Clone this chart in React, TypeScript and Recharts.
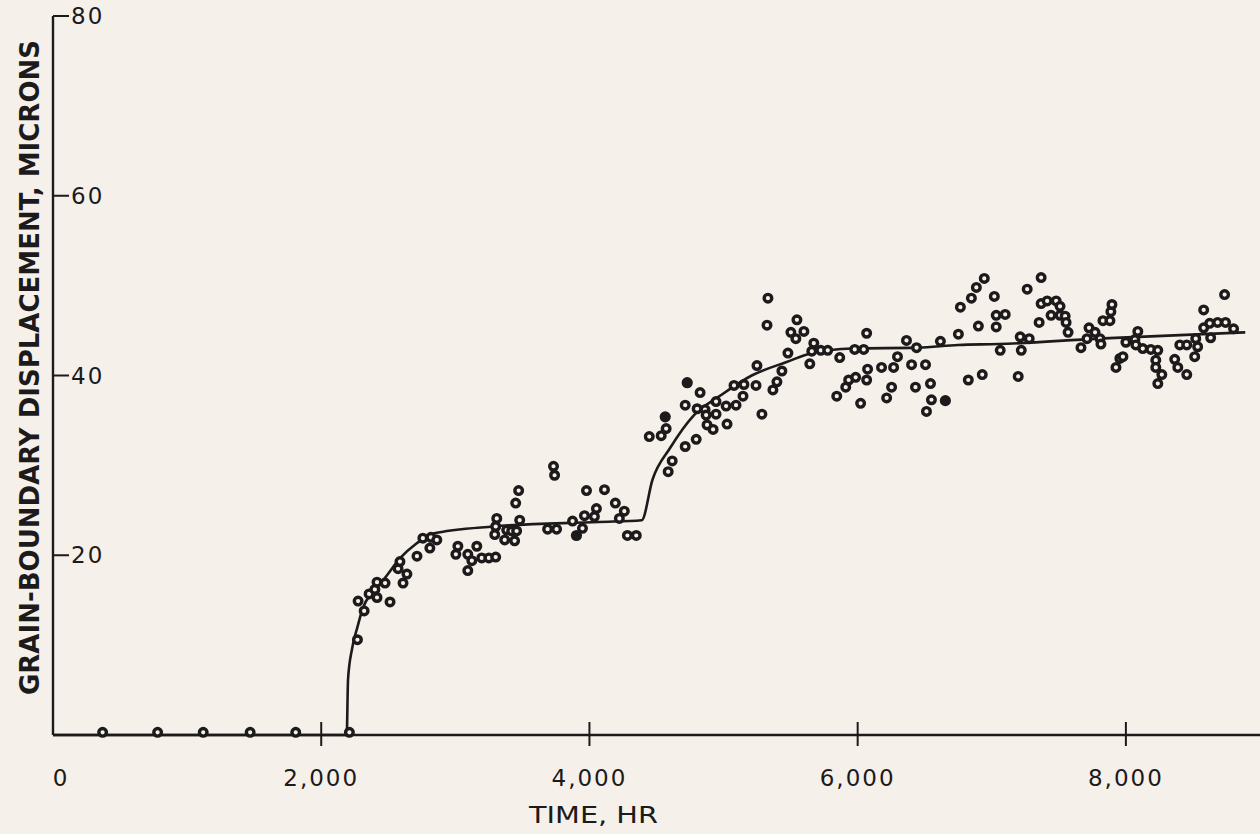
import { ComposedChart, Line, Scatter, XAxis, YAxis } from "recharts";

const PAPER = "#f6f0eb";
const INK = "#1c1a1a";

// [time (hr), displacement (microns)]
const baselinePoints = [
  [370, 0.3], [780, 0.3], [1120, 0.3], [1470, 0.3], [1810, 0.3], [2210, 0.3],
];

const firstRisePoints = [
  [2270, 10.6], [2275, 14.9], [2320, 13.8], [2357, 15.7], [2400, 16.2], [2416, 17.0],
  [2416, 15.3], [2476, 16.9], [2513, 14.8], [2573, 18.5], [2587, 19.3], [2610, 16.9],
  [2639, 17.9], [2714, 19.9], [2758, 21.9], [2810, 20.8], [2818, 22.0], [2862, 21.7],
  [3004, 20.1], [3019, 21.0], [3093, 20.1], [3093, 18.3], [3123, 19.4], [3160, 21.0],
  [3197, 19.7], [3250, 19.7], [3301, 19.8],
];

const plateauPoints = [
  [3294, 22.3], [3301, 23.2], [3309, 24.1], [3368, 21.7], [3383, 22.8], [3420, 22.7],
  [3442, 21.6], [3450, 25.8], [3457, 22.7], [3472, 27.2], [3480, 23.9], [3688, 22.9],
  [3732, 29.9], [3740, 28.9], [3755, 22.9], [3874, 23.8], [3948, 23.0], [3963, 24.4],
  [3978, 27.2], [4037, 24.3], [4052, 25.2], [4112, 27.3], [4193, 25.8], [4223, 24.1],
  [4260, 24.9], [4283, 22.2], [4349, 22.2],
];

const secondRisePoints = [
  [4446, 33.2], [4535, 33.3], [4572, 34.1], [4587, 29.3], [4617, 30.5], [4714, 32.1],
  [4714, 36.7], [4796, 32.9], [4803, 36.3], [4825, 38.1], [4862, 36.2], [4870, 35.6],
  [4877, 34.5], [4922, 34.0], [4944, 37.1], [4944, 35.7], [5019, 36.6], [5026, 34.6],
  [5078, 38.9], [5093, 36.7], [5145, 37.7], [5152, 39.0], [5242, 38.9], [5249, 41.1],
  [5286, 35.7], [5324, 45.6], [5331, 48.6], [5368, 38.4], [5398, 39.3], [5435, 40.5],
];

const upperPoints = [
  [5480, 42.5], [5502, 44.8], [5539, 44.1], [5547, 46.2], [5599, 44.9], [5643, 41.3],
  [5658, 42.7], [5673, 43.6], [5725, 42.8], [5777, 42.8], [5844, 37.7], [5866, 42.0],
  [5911, 38.7], [5933, 39.5], [5978, 42.9], [5985, 39.8], [6022, 36.9], [6045, 42.9],
  [6067, 44.7], [6067, 39.5], [6074, 40.7], [6178, 40.9], [6216, 37.5], [6253, 38.7],
  [6268, 40.9], [6297, 42.1], [6364, 43.9], [6402, 41.2], [6431, 38.7], [6439, 43.1],
  [6506, 41.2], [6513, 36.0], [6543, 39.1], [6550, 37.3], [6617, 43.8], [6751, 44.6],
  [6766, 47.6], [6825, 39.5], [6848, 48.6], [6885, 49.8], [6900, 45.5], [6929, 40.1],
  [6944, 50.8], [7019, 48.8], [7033, 46.7], [7033, 45.4], [7063, 42.8], [7100, 46.8],
];

const lateTimePoints = [
  [7197, 39.9], [7212, 44.3], [7220, 42.8], [7264, 49.6], [7279, 44.1], [7353, 45.9],
  [7368, 50.9], [7368, 48.0], [7413, 48.3], [7442, 46.7], [7480, 48.3], [7509, 47.7],
  [7509, 46.7], [7547, 46.6], [7554, 45.9], [7569, 44.8], [7665, 43.1], [7710, 44.1],
  [7725, 45.3], [7770, 44.8], [7807, 44.1], [7814, 43.5], [7829, 46.1], [7881, 46.1],
  [7888, 47.1], [7896, 47.9], [7926, 40.9], [7955, 41.9], [7978, 42.1], [8000, 43.7],
  [8067, 44.0], [8074, 43.4], [8089, 44.9], [8126, 43.0], [8186, 42.9], [8223, 41.7],
  [8223, 40.9], [8238, 42.8], [8238, 39.1], [8268, 40.1], [8364, 41.8], [8387, 40.9],
  [8402, 43.4], [8454, 43.4], [8454, 40.1], [8513, 42.1], [8521, 44.1], [8535, 43.2],
  [8580, 47.3], [8580, 45.3], [8625, 45.8], [8632, 44.2], [8684, 45.9], [8736, 49.0],
  [8743, 45.9], [8803, 45.2],
];

// the few solid dots
const filledPoints = [
  [3903, 22.2], [4565, 35.4], [4729, 39.2], [6654, 37.2],
];

// faired curve through the data
const fitCurve = [
  [0, 0], [2190, 0], [2200, 6.2], [2230, 9.6], [2270, 12.0], [2310, 14.1],
  [2380, 15.9], [2460, 17.2], [2590, 19.7], [2710, 21.3], [2830, 22.4], [3280, 23.2],
  [4070, 23.7], [4390, 23.9], [4470, 28.4], [4600, 31.9], [4780, 35.6], [4970, 37.7],
  [5210, 40.0], [5470, 41.5], [5660, 42.5], [5960, 43.0], [6450, 43.1], [6750, 43.4],
  [7050, 43.5], [7790, 44.1], [8890, 44.8],
];

const timeTicks = [0, 2000, 4000, 6000, 8000];
const displacementTicks = [20, 40, 60, 80];

const toRows = (pairs: number[][]) => pairs.map(([t, d]) => ({ t, d }));

const openDots = toRows([
  ...baselinePoints,
  ...firstRisePoints,
  ...plateauPoints,
  ...secondRisePoints,
  ...upperPoints,
  ...lateTimePoints,
]);
const solidDots = toRows(filledPoints);
const curveRows = toRows(fitCurve);

const tickFont = { fontFamily: "'DejaVu Sans', sans-serif", fontSize: 23, fill: INK };

function formatHours(v: number): string {
  return v === 0 ? "0" : v.toLocaleString("en-US");
}

function TimeTick({ x, y, payload }: any) {
  const v = payload.value as number;
  return (
    <g>
      {v !== 0 && <line x1={x} x2={x} y1={y - 13} y2={y + 11} stroke={INK} strokeWidth={2} />}
      <text
        x={v === 0 ? x + 8 : x}
        y={y + 43}
        textAnchor="middle"
        dominantBaseline="central"
        letterSpacing={2}
        {...tickFont}
      >
        {formatHours(v)}
      </text>
    </g>
  );
}

function DisplacementTick({ x, y, payload }: any) {
  return (
    <g>
      <line x1={x} x2={x + 16} y1={y} y2={y} stroke={INK} strokeWidth={2} />
      <text x={x + 18} y={y} textAnchor="start" dominantBaseline="central" letterSpacing={2} {...tickFont}>
        {payload.value}
      </text>
    </g>
  );
}

function OpenDot({ cx, cy }: any) {
  return <circle cx={cx} cy={cy} r={3.8} fill={PAPER} stroke={INK} strokeWidth={3.4} />;
}

function SolidDot({ cx, cy }: any) {
  return <circle cx={cx} cy={cy} r={5.6} fill={INK} />;
}

export default function App() {
  return (
    <div style={{ position: "absolute", left: 0, top: 0, width: 1260, height: 834, background: PAPER }}>
      <ComposedChart width={1260} height={834} margin={{ top: 16, right: 0, bottom: 98, left: 52 }}>
        <XAxis
          type="number"
          dataKey="t"
          domain={[0, 9000]}
          ticks={timeTicks}
          height={1}
          tickSize={0}
          tickMargin={0}
          tickLine={false}
          axisLine={{ stroke: INK, strokeWidth: 2.6 }}
          tick={<TimeTick />}
          interval={0}
          label={{
            content: () => (
              <text
                x={529}
                y={815}
                dominantBaseline="central"
                textLength={129}
                lengthAdjust="spacingAndGlyphs"
                {...tickFont}
              >
                TIME, HR
              </text>
            ),
          }}
        />
        <YAxis
          type="number"
          dataKey="d"
          domain={[0, 80]}
          ticks={displacementTicks}
          width={1}
          tickSize={0}
          tickMargin={0}
          tickLine={false}
          axisLine={{ stroke: INK, strokeWidth: 2.4 }}
          tick={<DisplacementTick />}
          interval={0}
          label={{
            content: () => (
              <text
                x={30}
                y={695}
                transform="rotate(-90 30 695)"
                dominantBaseline="central"
                textLength={655}
                lengthAdjust="spacingAndGlyphs"
                fontFamily="'DejaVu Sans', sans-serif"
                fontWeight="bold"
                fontSize={26}
                fill={INK}
              >
                GRAIN-BOUNDARY DISPLACEMENT, MICRONS
              </text>
            ),
          }}
        />
        <Line
          data={curveRows}
          dataKey="d"
          type="monotone"
          stroke={INK}
          strokeWidth={2.6}
          dot={false}
          activeDot={false}
          isAnimationActive={false}
        />
        <Scatter data={openDots} dataKey="d" shape={<OpenDot />} isAnimationActive={false} />
        <Scatter data={solidDots} dataKey="d" shape={<SolidDot />} isAnimationActive={false} />
      </ComposedChart>
    </div>
  );
}
